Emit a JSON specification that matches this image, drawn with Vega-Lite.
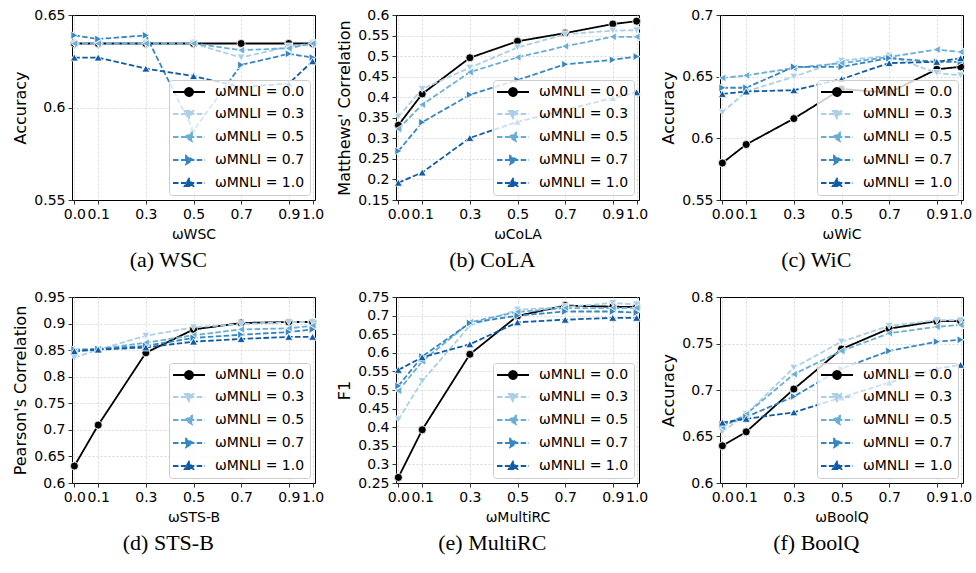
{
  "$schema": "https://vega.github.io/schema/vega-lite/v6.json",
  "padding": {"left": 12, "top": 7, "right": 5, "bottom": 5},
  "datasets": {
    "wsc": [
      {"x":0,"m":"0.0","y":0.6346},{"x":0.1,"m":"0.0","y":0.6346},{"x":0.3,"m":"0.0","y":0.6346},{"x":0.5,"m":"0.0","y":0.6346},{"x":0.7,"m":"0.0","y":0.6346},{"x":0.9,"m":"0.0","y":0.6346},{"x":1,"m":"0.0","y":0.6346},
      {"x":0,"m":"0.3","y":0.6346},{"x":0.1,"m":"0.3","y":0.6346},{"x":0.3,"m":"0.3","y":0.6346},{"x":0.5,"m":"0.3","y":0.6346},{"x":0.7,"m":"0.3","y":0.627},{"x":0.9,"m":"0.3","y":0.633},{"x":1,"m":"0.3","y":0.6346},
      {"x":0,"m":"0.5","y":0.6346},{"x":0.1,"m":"0.5","y":0.6346},{"x":0.3,"m":"0.5","y":0.6346},{"x":0.5,"m":"0.5","y":0.6346},{"x":0.7,"m":"0.5","y":0.631},{"x":0.9,"m":"0.5","y":0.632},{"x":1,"m":"0.5","y":0.6346},
      {"x":0,"m":"0.7","y":0.639},{"x":0.1,"m":"0.7","y":0.637},{"x":0.3,"m":"0.7","y":0.639},{"x":0.5,"m":"0.7","y":0.5875},{"x":0.7,"m":"0.7","y":0.623},{"x":0.9,"m":"0.7","y":0.629},{"x":1,"m":"0.7","y":0.627},
      {"x":0,"m":"1.0","y":0.627},{"x":0.1,"m":"1.0","y":0.627},{"x":0.3,"m":"1.0","y":0.621},{"x":0.5,"m":"1.0","y":0.617},{"x":0.7,"m":"1.0","y":0.611},{"x":0.9,"m":"1.0","y":0.613},{"x":1,"m":"1.0","y":0.625}
    ],
    "cola": [
      {"x":0,"m":"0.0","y":0.332},{"x":0.1,"m":"0.0","y":0.408},{"x":0.3,"m":"0.0","y":0.496},{"x":0.5,"m":"0.0","y":0.536},{"x":0.7,"m":"0.0","y":0.556},{"x":0.9,"m":"0.0","y":0.578},{"x":1,"m":"0.0","y":0.585},
      {"x":0,"m":"0.3","y":0.353},{"x":0.1,"m":"0.3","y":0.42},{"x":0.3,"m":"0.3","y":0.472},{"x":0.5,"m":"0.3","y":0.521},{"x":0.7,"m":"0.3","y":0.553},{"x":0.9,"m":"0.3","y":0.562},{"x":1,"m":"0.3","y":0.563},
      {"x":0,"m":"0.5","y":0.323},{"x":0.1,"m":"0.5","y":0.382},{"x":0.3,"m":"0.5","y":0.461},{"x":0.5,"m":"0.5","y":0.497},{"x":0.7,"m":"0.5","y":0.524},{"x":0.9,"m":"0.5","y":0.547},{"x":1,"m":"0.5","y":0.547},
      {"x":0,"m":"0.7","y":0.269},{"x":0.1,"m":"0.7","y":0.339},{"x":0.3,"m":"0.7","y":0.406},{"x":0.5,"m":"0.7","y":0.442},{"x":0.7,"m":"0.7","y":0.48},{"x":0.9,"m":"0.7","y":0.491},{"x":1,"m":"0.7","y":0.499},
      {"x":0,"m":"1.0","y":0.192},{"x":0.1,"m":"1.0","y":0.217},{"x":0.3,"m":"1.0","y":0.301},{"x":0.5,"m":"1.0","y":0.34},{"x":0.7,"m":"1.0","y":0.369},{"x":0.9,"m":"1.0","y":0.398},{"x":1,"m":"1.0","y":0.412}
    ],
    "wic": [
      {"x":0,"m":"0.0","y":0.58},{"x":0.1,"m":"0.0","y":0.595},{"x":0.3,"m":"0.0","y":0.616},{"x":0.5,"m":"0.0","y":0.64},{"x":0.7,"m":"0.0","y":0.637},{"x":0.9,"m":"0.0","y":0.656},{"x":1,"m":"0.0","y":0.658},
      {"x":0,"m":"0.3","y":0.621},{"x":0.1,"m":"0.3","y":0.638},{"x":0.3,"m":"0.3","y":0.65},{"x":0.5,"m":"0.3","y":0.663},{"x":0.7,"m":"0.3","y":0.667},{"x":0.9,"m":"0.3","y":0.653},{"x":1,"m":"0.3","y":0.651},
      {"x":0,"m":"0.5","y":0.649},{"x":0.1,"m":"0.5","y":0.651},{"x":0.3,"m":"0.5","y":0.657},{"x":0.5,"m":"0.5","y":0.661},{"x":0.7,"m":"0.5","y":0.666},{"x":0.9,"m":"0.5","y":0.672},{"x":1,"m":"0.5","y":0.67},
      {"x":0,"m":"0.7","y":0.641},{"x":0.1,"m":"0.7","y":0.641},{"x":0.3,"m":"0.7","y":0.658},{"x":0.5,"m":"0.7","y":0.658},{"x":0.7,"m":"0.7","y":0.665},{"x":0.9,"m":"0.7","y":0.662},{"x":1,"m":"0.7","y":0.662},
      {"x":0,"m":"1.0","y":0.636},{"x":0.1,"m":"1.0","y":0.638},{"x":0.3,"m":"1.0","y":0.639},{"x":0.5,"m":"1.0","y":0.648},{"x":0.7,"m":"1.0","y":0.661},{"x":0.9,"m":"1.0","y":0.662},{"x":1,"m":"1.0","y":0.665}
    ],
    "stsb": [
      {"x":0,"m":"0.0","y":0.632},{"x":0.1,"m":"0.0","y":0.709},{"x":0.3,"m":"0.0","y":0.845},{"x":0.5,"m":"0.0","y":0.889},{"x":0.7,"m":"0.0","y":0.901},{"x":0.9,"m":"0.0","y":0.903},{"x":1,"m":"0.0","y":0.903},
      {"x":0,"m":"0.3","y":0.836},{"x":0.1,"m":"0.3","y":0.851},{"x":0.3,"m":"0.3","y":0.877},{"x":0.5,"m":"0.3","y":0.893},{"x":0.7,"m":"0.3","y":0.899},{"x":0.9,"m":"0.3","y":0.903},{"x":1,"m":"0.3","y":0.903},
      {"x":0,"m":"0.5","y":0.848},{"x":0.1,"m":"0.5","y":0.852},{"x":0.3,"m":"0.5","y":0.864},{"x":0.5,"m":"0.5","y":0.878},{"x":0.7,"m":"0.5","y":0.889},{"x":0.9,"m":"0.5","y":0.891},{"x":1,"m":"0.5","y":0.896},
      {"x":0,"m":"0.7","y":0.851},{"x":0.1,"m":"0.7","y":0.852},{"x":0.3,"m":"0.7","y":0.858},{"x":0.5,"m":"0.7","y":0.873},{"x":0.7,"m":"0.7","y":0.879},{"x":0.9,"m":"0.7","y":0.884},{"x":1,"m":"0.7","y":0.889},
      {"x":0,"m":"1.0","y":0.848},{"x":0.1,"m":"1.0","y":0.851},{"x":0.3,"m":"1.0","y":0.855},{"x":0.5,"m":"1.0","y":0.866},{"x":0.7,"m":"1.0","y":0.871},{"x":0.9,"m":"1.0","y":0.875},{"x":1,"m":"1.0","y":0.875}
    ],
    "multirc": [
      {"x":0,"m":"0.0","y":0.265},{"x":0.1,"m":"0.0","y":0.393},{"x":0.3,"m":"0.0","y":0.596},{"x":0.5,"m":"0.0","y":0.699},{"x":0.7,"m":"0.0","y":0.727},{"x":0.9,"m":"0.0","y":0.724},{"x":1,"m":"0.0","y":0.723},
      {"x":0,"m":"0.3","y":0.421},{"x":0.1,"m":"0.3","y":0.524},{"x":0.3,"m":"0.3","y":0.673},{"x":0.5,"m":"0.3","y":0.716},{"x":0.7,"m":"0.3","y":0.723},{"x":0.9,"m":"0.3","y":0.734},{"x":1,"m":"0.3","y":0.73},
      {"x":0,"m":"0.5","y":0.498},{"x":0.1,"m":"0.5","y":0.577},{"x":0.3,"m":"0.5","y":0.682},{"x":0.5,"m":"0.5","y":0.71},{"x":0.7,"m":"0.5","y":0.72},{"x":0.9,"m":"0.5","y":0.72},{"x":1,"m":"0.5","y":0.721},
      {"x":0,"m":"0.7","y":0.511},{"x":0.1,"m":"0.7","y":0.59},{"x":0.3,"m":"0.7","y":0.68},{"x":0.5,"m":"0.7","y":0.7},{"x":0.7,"m":"0.7","y":0.711},{"x":0.9,"m":"0.7","y":0.711},{"x":1,"m":"0.7","y":0.708},
      {"x":0,"m":"1.0","y":0.554},{"x":0.1,"m":"1.0","y":0.588},{"x":0.3,"m":"1.0","y":0.623},{"x":0.5,"m":"1.0","y":0.682},{"x":0.7,"m":"1.0","y":0.689},{"x":0.9,"m":"1.0","y":0.694},{"x":1,"m":"1.0","y":0.694}
    ],
    "boolq": [
      {"x":0,"m":"0.0","y":0.64},{"x":0.1,"m":"0.0","y":0.655},{"x":0.3,"m":"0.0","y":0.701},{"x":0.5,"m":"0.0","y":0.744},{"x":0.7,"m":"0.0","y":0.766},{"x":0.9,"m":"0.0","y":0.774},{"x":1,"m":"0.0","y":0.774},
      {"x":0,"m":"0.3","y":0.655},{"x":0.1,"m":"0.3","y":0.674},{"x":0.3,"m":"0.3","y":0.724},{"x":0.5,"m":"0.3","y":0.752},{"x":0.7,"m":"0.3","y":0.769},{"x":0.9,"m":"0.3","y":0.775},{"x":1,"m":"0.3","y":0.775},
      {"x":0,"m":"0.5","y":0.66},{"x":0.1,"m":"0.5","y":0.674},{"x":0.3,"m":"0.5","y":0.717},{"x":0.5,"m":"0.5","y":0.742},{"x":0.7,"m":"0.5","y":0.761},{"x":0.9,"m":"0.5","y":0.768},{"x":1,"m":"0.5","y":0.77},
      {"x":0,"m":"0.7","y":0.663},{"x":0.1,"m":"0.7","y":0.671},{"x":0.3,"m":"0.7","y":0.693},{"x":0.5,"m":"0.7","y":0.723},{"x":0.7,"m":"0.7","y":0.742},{"x":0.9,"m":"0.7","y":0.752},{"x":1,"m":"0.7","y":0.754},
      {"x":0,"m":"1.0","y":0.665},{"x":0.1,"m":"1.0","y":0.669},{"x":0.3,"m":"1.0","y":0.676},{"x":0.5,"m":"1.0","y":0.692},{"x":0.7,"m":"1.0","y":0.708},{"x":0.9,"m":"1.0","y":0.723},{"x":1,"m":"1.0","y":0.727}
    ]
  },
  "concat": [
    {
      "width": 243, "height": 185,
      "data": {"name": "wsc"},
      "title": {"text": "(a) WSC"},
      "encoding": {
        "x": {"field": "x", "type": "quantitative", "scale": {"domain": [-0.01, 1.01], "nice": false, "zero": false}, "axis": {"values": [0, 0.1, 0.3, 0.5, 0.7, 0.9, 1], "format": ".1f", "title": "ωWSC"}},
        "y": {"field": "y", "type": "quantitative", "scale": {"domain": [0.55, 0.65], "nice": false, "zero": false}, "axis": {"values": [0.55, 0.6, 0.65], "format": ".2~f", "title": "Accuracy", "gridColor": {"condition": {"test": "datum.value === 0.55 || datum.value === 0.65", "value": "transparent"}, "value": "#cfcfcf"}}},
        "color": {"field": "m", "type": "nominal", "scale": {"domain": ["0.0","0.3","0.5","0.7","1.0"], "range": ["#000000","#abd0e6","#6aaed6","#3787c0","#105ba4"]}, "legend": {"title": null, "labelExpr": "'ωMNLI = ' + datum.label", "encode": {"symbols": {"update": {"shape": {"signal": "datum.value === '0.0' ? 'M-3.2,0H3.2M0.8,0A0.8,0.8,0,1,1,-0.8,0A0.8,0.8,0,1,1,0.8,0Z' : datum.value === '0.3' ? 'M-3.2,0H3.2M-0.85,-0.6L0.85,-0.6L0,0.85Z' : datum.value === '0.5' ? 'M-3.2,0H3.2M0.6,-0.85L0.6,0.85L-0.85,0Z' : datum.value === '0.7' ? 'M-3.2,0H3.2M-0.6,-0.85L-0.6,0.85L0.85,0Z' : 'M-3.2,0H3.2M-0.85,0.6L0.85,0.6L0,-0.85Z'"}, "strokeDash": {"signal": "datum.value === '0.0' ? [1,0] : [5.5,2.4]"}, "strokeWidth": {"value": 1.8}, "opacity": {"value": 1}, "fillOpacity": {"value": 1}, "strokeOpacity": {"value": 1}}}}}}
      },
      "layer": [
        {"mark": {"type": "line", "strokeWidth": 1.8}, "encoding": {"strokeDash": {"field": "m", "type": "nominal", "scale": {"domain": ["0.0","0.3","0.5","0.7","1.0"], "range": [[1,0],[5.5,2.4],[5.5,2.4],[5.5,2.4],[5.5,2.4]]}, "legend": null}}},
        {"transform": [{"filter": "datum.m === '0.0'"}], "mark": {"type": "point", "shape": "circle", "filled": true, "size": 64, "opacity": 1, "stroke": "white", "strokeWidth": 0.8}},
        {"transform": [{"filter": "datum.m === '0.3'"}], "mark": {"type": "point", "shape": "triangle-down", "filled": true, "size": 64, "opacity": 1, "stroke": "white", "strokeWidth": 0.8}},
        {"transform": [{"filter": "datum.m === '0.5'"}], "mark": {"type": "point", "shape": "triangle-left", "filled": true, "size": 64, "opacity": 1, "stroke": "white", "strokeWidth": 0.8}},
        {"transform": [{"filter": "datum.m === '0.7'"}], "mark": {"type": "point", "shape": "triangle-right", "filled": true, "size": 64, "opacity": 1, "stroke": "white", "strokeWidth": 0.8}},
        {"transform": [{"filter": "datum.m === '1.0'"}], "mark": {"type": "point", "shape": "triangle-up", "filled": true, "size": 64, "opacity": 1, "stroke": "white", "strokeWidth": 0.8}}
      ]
    },
    {
      "width": 243, "height": 185,
      "data": {"name": "cola"},
      "title": {"text": "(b) CoLA"},
      "encoding": {
        "x": {"field": "x", "type": "quantitative", "scale": {"domain": [-0.01, 1.01], "nice": false, "zero": false}, "axis": {"values": [0, 0.1, 0.3, 0.5, 0.7, 0.9, 1], "format": ".1f", "title": "ωCoLA"}},
        "y": {"field": "y", "type": "quantitative", "scale": {"domain": [0.15, 0.6], "nice": false, "zero": false}, "axis": {"values": [0.15, 0.2, 0.25, 0.3, 0.35, 0.4, 0.45, 0.5, 0.55, 0.6], "format": ".2~f", "title": "Matthews' Correlation", "gridColor": {"condition": {"test": "datum.value === 0.15 || datum.value === 0.6", "value": "transparent"}, "value": "#cfcfcf"}}},
        "color": {"field": "m", "type": "nominal", "scale": {"domain": ["0.0","0.3","0.5","0.7","1.0"], "range": ["#000000","#abd0e6","#6aaed6","#3787c0","#105ba4"]}, "legend": {"title": null, "labelExpr": "'ωMNLI = ' + datum.label", "encode": {"symbols": {"update": {"shape": {"signal": "datum.value === '0.0' ? 'M-3.2,0H3.2M0.8,0A0.8,0.8,0,1,1,-0.8,0A0.8,0.8,0,1,1,0.8,0Z' : datum.value === '0.3' ? 'M-3.2,0H3.2M-0.85,-0.6L0.85,-0.6L0,0.85Z' : datum.value === '0.5' ? 'M-3.2,0H3.2M0.6,-0.85L0.6,0.85L-0.85,0Z' : datum.value === '0.7' ? 'M-3.2,0H3.2M-0.6,-0.85L-0.6,0.85L0.85,0Z' : 'M-3.2,0H3.2M-0.85,0.6L0.85,0.6L0,-0.85Z'"}, "strokeDash": {"signal": "datum.value === '0.0' ? [1,0] : [5.5,2.4]"}, "strokeWidth": {"value": 1.8}, "opacity": {"value": 1}, "fillOpacity": {"value": 1}, "strokeOpacity": {"value": 1}}}}}}
      },
      "layer": [
        {"mark": {"type": "line", "strokeWidth": 1.8}, "encoding": {"strokeDash": {"field": "m", "type": "nominal", "scale": {"domain": ["0.0","0.3","0.5","0.7","1.0"], "range": [[1,0],[5.5,2.4],[5.5,2.4],[5.5,2.4],[5.5,2.4]]}, "legend": null}}},
        {"transform": [{"filter": "datum.m === '0.0'"}], "mark": {"type": "point", "shape": "circle", "filled": true, "size": 64, "opacity": 1, "stroke": "white", "strokeWidth": 0.8}},
        {"transform": [{"filter": "datum.m === '0.3'"}], "mark": {"type": "point", "shape": "triangle-down", "filled": true, "size": 64, "opacity": 1, "stroke": "white", "strokeWidth": 0.8}},
        {"transform": [{"filter": "datum.m === '0.5'"}], "mark": {"type": "point", "shape": "triangle-left", "filled": true, "size": 64, "opacity": 1, "stroke": "white", "strokeWidth": 0.8}},
        {"transform": [{"filter": "datum.m === '0.7'"}], "mark": {"type": "point", "shape": "triangle-right", "filled": true, "size": 64, "opacity": 1, "stroke": "white", "strokeWidth": 0.8}},
        {"transform": [{"filter": "datum.m === '1.0'"}], "mark": {"type": "point", "shape": "triangle-up", "filled": true, "size": 64, "opacity": 1, "stroke": "white", "strokeWidth": 0.8}}
      ]
    },
    {
      "width": 243, "height": 185,
      "data": {"name": "wic"},
      "title": {"text": "(c) WiC"},
      "encoding": {
        "x": {"field": "x", "type": "quantitative", "scale": {"domain": [-0.01, 1.01], "nice": false, "zero": false}, "axis": {"values": [0, 0.1, 0.3, 0.5, 0.7, 0.9, 1], "format": ".1f", "title": "ωWiC"}},
        "y": {"field": "y", "type": "quantitative", "scale": {"domain": [0.55, 0.7], "nice": false, "zero": false}, "axis": {"values": [0.55, 0.6, 0.65, 0.7], "format": ".2~f", "title": "Accuracy", "gridColor": {"condition": {"test": "datum.value === 0.55 || datum.value === 0.7", "value": "transparent"}, "value": "#cfcfcf"}}},
        "color": {"field": "m", "type": "nominal", "scale": {"domain": ["0.0","0.3","0.5","0.7","1.0"], "range": ["#000000","#abd0e6","#6aaed6","#3787c0","#105ba4"]}, "legend": {"title": null, "labelExpr": "'ωMNLI = ' + datum.label", "encode": {"symbols": {"update": {"shape": {"signal": "datum.value === '0.0' ? 'M-3.2,0H3.2M0.8,0A0.8,0.8,0,1,1,-0.8,0A0.8,0.8,0,1,1,0.8,0Z' : datum.value === '0.3' ? 'M-3.2,0H3.2M-0.85,-0.6L0.85,-0.6L0,0.85Z' : datum.value === '0.5' ? 'M-3.2,0H3.2M0.6,-0.85L0.6,0.85L-0.85,0Z' : datum.value === '0.7' ? 'M-3.2,0H3.2M-0.6,-0.85L-0.6,0.85L0.85,0Z' : 'M-3.2,0H3.2M-0.85,0.6L0.85,0.6L0,-0.85Z'"}, "strokeDash": {"signal": "datum.value === '0.0' ? [1,0] : [5.5,2.4]"}, "strokeWidth": {"value": 1.8}, "opacity": {"value": 1}, "fillOpacity": {"value": 1}, "strokeOpacity": {"value": 1}}}}}}
      },
      "layer": [
        {"mark": {"type": "line", "strokeWidth": 1.8}, "encoding": {"strokeDash": {"field": "m", "type": "nominal", "scale": {"domain": ["0.0","0.3","0.5","0.7","1.0"], "range": [[1,0],[5.5,2.4],[5.5,2.4],[5.5,2.4],[5.5,2.4]]}, "legend": null}}},
        {"transform": [{"filter": "datum.m === '0.0'"}], "mark": {"type": "point", "shape": "circle", "filled": true, "size": 64, "opacity": 1, "stroke": "white", "strokeWidth": 0.8}},
        {"transform": [{"filter": "datum.m === '0.3'"}], "mark": {"type": "point", "shape": "triangle-down", "filled": true, "size": 64, "opacity": 1, "stroke": "white", "strokeWidth": 0.8}},
        {"transform": [{"filter": "datum.m === '0.5'"}], "mark": {"type": "point", "shape": "triangle-left", "filled": true, "size": 64, "opacity": 1, "stroke": "white", "strokeWidth": 0.8}},
        {"transform": [{"filter": "datum.m === '0.7'"}], "mark": {"type": "point", "shape": "triangle-right", "filled": true, "size": 64, "opacity": 1, "stroke": "white", "strokeWidth": 0.8}},
        {"transform": [{"filter": "datum.m === '1.0'"}], "mark": {"type": "point", "shape": "triangle-up", "filled": true, "size": 64, "opacity": 1, "stroke": "white", "strokeWidth": 0.8}}
      ]
    },
    {
      "width": 243, "height": 186,
      "data": {"name": "stsb"},
      "title": {"text": "(d) STS-B"},
      "encoding": {
        "x": {"field": "x", "type": "quantitative", "scale": {"domain": [-0.01, 1.01], "nice": false, "zero": false}, "axis": {"values": [0, 0.1, 0.3, 0.5, 0.7, 0.9, 1], "format": ".1f", "title": "ωSTS-B"}},
        "y": {"field": "y", "type": "quantitative", "scale": {"domain": [0.6, 0.95], "nice": false, "zero": false}, "axis": {"values": [0.6, 0.65, 0.7, 0.75, 0.8, 0.85, 0.9, 0.95], "format": ".2~f", "title": "Pearson's Correlation", "gridColor": {"condition": {"test": "datum.value === 0.6 || datum.value === 0.95", "value": "transparent"}, "value": "#cfcfcf"}}},
        "color": {"field": "m", "type": "nominal", "scale": {"domain": ["0.0","0.3","0.5","0.7","1.0"], "range": ["#000000","#abd0e6","#6aaed6","#3787c0","#105ba4"]}, "legend": {"title": null, "labelExpr": "'ωMNLI = ' + datum.label", "encode": {"symbols": {"update": {"shape": {"signal": "datum.value === '0.0' ? 'M-3.2,0H3.2M0.8,0A0.8,0.8,0,1,1,-0.8,0A0.8,0.8,0,1,1,0.8,0Z' : datum.value === '0.3' ? 'M-3.2,0H3.2M-0.85,-0.6L0.85,-0.6L0,0.85Z' : datum.value === '0.5' ? 'M-3.2,0H3.2M0.6,-0.85L0.6,0.85L-0.85,0Z' : datum.value === '0.7' ? 'M-3.2,0H3.2M-0.6,-0.85L-0.6,0.85L0.85,0Z' : 'M-3.2,0H3.2M-0.85,0.6L0.85,0.6L0,-0.85Z'"}, "strokeDash": {"signal": "datum.value === '0.0' ? [1,0] : [5.5,2.4]"}, "strokeWidth": {"value": 1.8}, "opacity": {"value": 1}, "fillOpacity": {"value": 1}, "strokeOpacity": {"value": 1}}}}}}
      },
      "layer": [
        {"mark": {"type": "line", "strokeWidth": 1.8}, "encoding": {"strokeDash": {"field": "m", "type": "nominal", "scale": {"domain": ["0.0","0.3","0.5","0.7","1.0"], "range": [[1,0],[5.5,2.4],[5.5,2.4],[5.5,2.4],[5.5,2.4]]}, "legend": null}}},
        {"transform": [{"filter": "datum.m === '0.0'"}], "mark": {"type": "point", "shape": "circle", "filled": true, "size": 64, "opacity": 1, "stroke": "white", "strokeWidth": 0.8}},
        {"transform": [{"filter": "datum.m === '0.3'"}], "mark": {"type": "point", "shape": "triangle-down", "filled": true, "size": 64, "opacity": 1, "stroke": "white", "strokeWidth": 0.8}},
        {"transform": [{"filter": "datum.m === '0.5'"}], "mark": {"type": "point", "shape": "triangle-left", "filled": true, "size": 64, "opacity": 1, "stroke": "white", "strokeWidth": 0.8}},
        {"transform": [{"filter": "datum.m === '0.7'"}], "mark": {"type": "point", "shape": "triangle-right", "filled": true, "size": 64, "opacity": 1, "stroke": "white", "strokeWidth": 0.8}},
        {"transform": [{"filter": "datum.m === '1.0'"}], "mark": {"type": "point", "shape": "triangle-up", "filled": true, "size": 64, "opacity": 1, "stroke": "white", "strokeWidth": 0.8}}
      ]
    },
    {
      "width": 243, "height": 186,
      "data": {"name": "multirc"},
      "title": {"text": "(e) MultiRC"},
      "encoding": {
        "x": {"field": "x", "type": "quantitative", "scale": {"domain": [-0.01, 1.01], "nice": false, "zero": false}, "axis": {"values": [0, 0.1, 0.3, 0.5, 0.7, 0.9, 1], "format": ".1f", "title": "ωMultiRC"}},
        "y": {"field": "y", "type": "quantitative", "scale": {"domain": [0.25, 0.75], "nice": false, "zero": false}, "axis": {"values": [0.25, 0.3, 0.35, 0.4, 0.45, 0.5, 0.55, 0.6, 0.65, 0.7, 0.75], "format": ".2~f", "title": "F1", "gridColor": {"condition": {"test": "datum.value === 0.25 || datum.value === 0.75", "value": "transparent"}, "value": "#cfcfcf"}}},
        "color": {"field": "m", "type": "nominal", "scale": {"domain": ["0.0","0.3","0.5","0.7","1.0"], "range": ["#000000","#abd0e6","#6aaed6","#3787c0","#105ba4"]}, "legend": {"title": null, "labelExpr": "'ωMNLI = ' + datum.label", "encode": {"symbols": {"update": {"shape": {"signal": "datum.value === '0.0' ? 'M-3.2,0H3.2M0.8,0A0.8,0.8,0,1,1,-0.8,0A0.8,0.8,0,1,1,0.8,0Z' : datum.value === '0.3' ? 'M-3.2,0H3.2M-0.85,-0.6L0.85,-0.6L0,0.85Z' : datum.value === '0.5' ? 'M-3.2,0H3.2M0.6,-0.85L0.6,0.85L-0.85,0Z' : datum.value === '0.7' ? 'M-3.2,0H3.2M-0.6,-0.85L-0.6,0.85L0.85,0Z' : 'M-3.2,0H3.2M-0.85,0.6L0.85,0.6L0,-0.85Z'"}, "strokeDash": {"signal": "datum.value === '0.0' ? [1,0] : [5.5,2.4]"}, "strokeWidth": {"value": 1.8}, "opacity": {"value": 1}, "fillOpacity": {"value": 1}, "strokeOpacity": {"value": 1}}}}}}
      },
      "layer": [
        {"mark": {"type": "line", "strokeWidth": 1.8}, "encoding": {"strokeDash": {"field": "m", "type": "nominal", "scale": {"domain": ["0.0","0.3","0.5","0.7","1.0"], "range": [[1,0],[5.5,2.4],[5.5,2.4],[5.5,2.4],[5.5,2.4]]}, "legend": null}}},
        {"transform": [{"filter": "datum.m === '0.0'"}], "mark": {"type": "point", "shape": "circle", "filled": true, "size": 64, "opacity": 1, "stroke": "white", "strokeWidth": 0.8}},
        {"transform": [{"filter": "datum.m === '0.3'"}], "mark": {"type": "point", "shape": "triangle-down", "filled": true, "size": 64, "opacity": 1, "stroke": "white", "strokeWidth": 0.8}},
        {"transform": [{"filter": "datum.m === '0.5'"}], "mark": {"type": "point", "shape": "triangle-left", "filled": true, "size": 64, "opacity": 1, "stroke": "white", "strokeWidth": 0.8}},
        {"transform": [{"filter": "datum.m === '0.7'"}], "mark": {"type": "point", "shape": "triangle-right", "filled": true, "size": 64, "opacity": 1, "stroke": "white", "strokeWidth": 0.8}},
        {"transform": [{"filter": "datum.m === '1.0'"}], "mark": {"type": "point", "shape": "triangle-up", "filled": true, "size": 64, "opacity": 1, "stroke": "white", "strokeWidth": 0.8}}
      ]
    },
    {
      "width": 243, "height": 186,
      "data": {"name": "boolq"},
      "title": {"text": "(f) BoolQ"},
      "encoding": {
        "x": {"field": "x", "type": "quantitative", "scale": {"domain": [-0.01, 1.01], "nice": false, "zero": false}, "axis": {"values": [0, 0.1, 0.3, 0.5, 0.7, 0.9, 1], "format": ".1f", "title": "ωBoolQ"}},
        "y": {"field": "y", "type": "quantitative", "scale": {"domain": [0.6, 0.8], "nice": false, "zero": false}, "axis": {"values": [0.6, 0.65, 0.7, 0.75, 0.8], "format": ".2~f", "title": "Accuracy", "gridColor": {"condition": {"test": "datum.value === 0.6 || datum.value === 0.8", "value": "transparent"}, "value": "#cfcfcf"}}},
        "color": {"field": "m", "type": "nominal", "scale": {"domain": ["0.0","0.3","0.5","0.7","1.0"], "range": ["#000000","#abd0e6","#6aaed6","#3787c0","#105ba4"]}, "legend": {"title": null, "labelExpr": "'ωMNLI = ' + datum.label", "encode": {"symbols": {"update": {"shape": {"signal": "datum.value === '0.0' ? 'M-3.2,0H3.2M0.8,0A0.8,0.8,0,1,1,-0.8,0A0.8,0.8,0,1,1,0.8,0Z' : datum.value === '0.3' ? 'M-3.2,0H3.2M-0.85,-0.6L0.85,-0.6L0,0.85Z' : datum.value === '0.5' ? 'M-3.2,0H3.2M0.6,-0.85L0.6,0.85L-0.85,0Z' : datum.value === '0.7' ? 'M-3.2,0H3.2M-0.6,-0.85L-0.6,0.85L0.85,0Z' : 'M-3.2,0H3.2M-0.85,0.6L0.85,0.6L0,-0.85Z'"}, "strokeDash": {"signal": "datum.value === '0.0' ? [1,0] : [5.5,2.4]"}, "strokeWidth": {"value": 1.8}, "opacity": {"value": 1}, "fillOpacity": {"value": 1}, "strokeOpacity": {"value": 1}}}}}}
      },
      "layer": [
        {"mark": {"type": "line", "strokeWidth": 1.8}, "encoding": {"strokeDash": {"field": "m", "type": "nominal", "scale": {"domain": ["0.0","0.3","0.5","0.7","1.0"], "range": [[1,0],[5.5,2.4],[5.5,2.4],[5.5,2.4],[5.5,2.4]]}, "legend": null}}},
        {"transform": [{"filter": "datum.m === '0.0'"}], "mark": {"type": "point", "shape": "circle", "filled": true, "size": 64, "opacity": 1, "stroke": "white", "strokeWidth": 0.8}},
        {"transform": [{"filter": "datum.m === '0.3'"}], "mark": {"type": "point", "shape": "triangle-down", "filled": true, "size": 64, "opacity": 1, "stroke": "white", "strokeWidth": 0.8}},
        {"transform": [{"filter": "datum.m === '0.5'"}], "mark": {"type": "point", "shape": "triangle-left", "filled": true, "size": 64, "opacity": 1, "stroke": "white", "strokeWidth": 0.8}},
        {"transform": [{"filter": "datum.m === '0.7'"}], "mark": {"type": "point", "shape": "triangle-right", "filled": true, "size": 64, "opacity": 1, "stroke": "white", "strokeWidth": 0.8}},
        {"transform": [{"filter": "datum.m === '1.0'"}], "mark": {"type": "point", "shape": "triangle-up", "filled": true, "size": 64, "opacity": 1, "stroke": "white", "strokeWidth": 0.8}}
      ]
    }
  ],
  "columns": 3,
  "spacing": {"row": 97, "column": 81},
  "bounds": "flush",
  "resolve": {"scale": {"color": "independent", "strokeDash": "independent"}, "legend": {"color": "independent", "strokeDash": "independent"}},
  "config": {
    "background": "white",
    "font": "DejaVu Sans",
    "view": {"stroke": "black", "strokeWidth": 1},
    "axis": {"domain": false, "grid": true, "gridColor": "#cfcfcf", "gridDash": [2, 2], "gridWidth": 0.8, "tickColor": "black", "tickSize": 4, "tickWidth": 0.8, "labelFont": "DejaVu Sans", "labelFontSize": 14, "labelColor": "black", "labelPadding": 3, "labelOverlap": false, "labelFlush": false, "titleFont": "DejaVu Sans", "titleFontSize": 16, "titleFontWeight": "normal", "titleColor": "black", "titlePadding": 5},
    "axisX": {"titleFontSize": 14, "titlePadding": 6},
    "legend": {"orient": "bottom-right", "offset": 5, "fillColor": "rgba(255,255,255,0.8)", "strokeColor": "#cccccc", "cornerRadius": 3, "padding": 5, "labelFont": "DejaVu Sans", "labelFontSize": 14, "labelColor": "black", "rowPadding": 7, "symbolSize": 100, "symbolOffset": 8, "labelOffset": 19, "symbolStrokeWidth": 1.8},
    "title": {"orient": "bottom", "anchor": "middle", "frame": "bounds", "font": "Liberation Serif", "fontSize": 22, "fontWeight": "normal", "color": "black", "offset": 9}
  }
}
